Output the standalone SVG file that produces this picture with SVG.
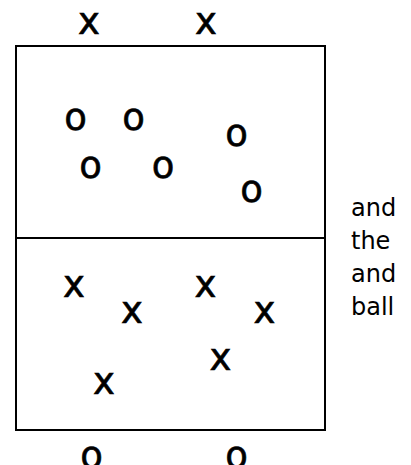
<svg xmlns="http://www.w3.org/2000/svg" width="411" height="465" viewBox="0 0 411 465">
<style>
.m{font-family:"DejaVu Sans",sans-serif;font-size:37px;fill:#000;stroke:#000;stroke-width:0.6;text-anchor:middle}
.t{font-family:"DejaVu Sans",sans-serif;font-size:24px;fill:#000}
.court{fill:#fff;stroke:#000;stroke-width:2}
</style>
<rect width="411" height="465" fill="#fff"/>
<g id="court">
<rect class="court" x="16" y="46" width="309" height="384"/>
<line x1="16" y1="238" x2="325" y2="238" stroke="#000" stroke-width="2"/>
</g>
<g id="top-x">
<text class="m" x="89" y="34">x</text>
<text class="m" x="206" y="34">x</text>
</g>
<g id="team-o">
<text class="m" x="75.5" y="130">o</text>
<text class="m" x="133.5" y="130">o</text>
<text class="m" x="236.5" y="146">o</text>
<text class="m" x="90.5" y="178">o</text>
<text class="m" x="163" y="178">o</text>
<text class="m" x="251.5" y="202">o</text>
</g>
<g id="team-x">
<text class="m" x="74" y="297">x</text>
<text class="m" x="132" y="323">x</text>
<text class="m" x="205.5" y="297">x</text>
<text class="m" x="264.5" y="323">x</text>
<text class="m" x="220.5" y="370">x</text>
<text class="m" x="104" y="394">x</text>
</g>
<g id="bottom-o">
<text class="m" x="91.5" y="468">o</text>
<text class="m" x="236.5" y="468">o</text>
</g>
<g id="label">
<text class="t" x="351" y="216">and</text>
<text class="t" x="351" y="249">the</text>
<text class="t" x="351" y="282">and</text>
<text class="t" x="351" y="315">ball</text>
</g>
</svg>
